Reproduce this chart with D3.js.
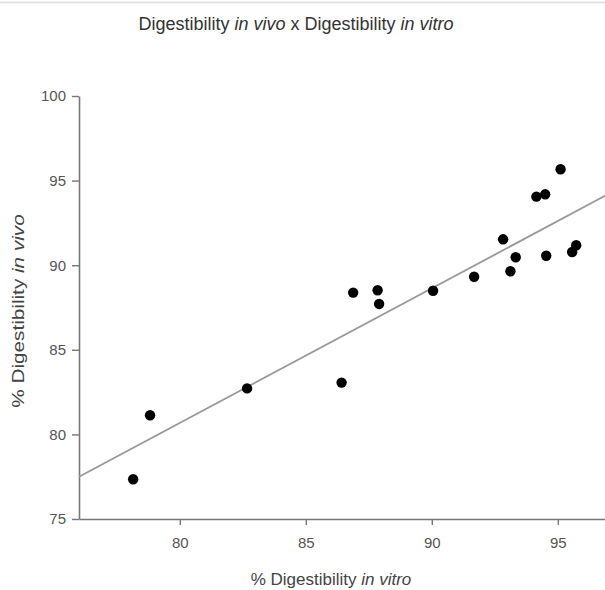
<!DOCTYPE html>
<html>
<head>
<meta charset="utf-8">
<script src="https://cdn.jsdelivr.net/npm/d3@7"></script>
<style>
  body { margin: 0; background: #fff; }
  svg { display: block; font-family: "Liberation Sans", Arial, sans-serif; }
</style>
</head>
<body>
<svg width="605" height="590"></svg>
<script>
// digestibility values
var inVitro = [78.15, 78.82, 82.67, 86.42, 86.88, 87.85, 87.91, 90.05, 91.68, 92.83, 93.12, 93.33, 94.15, 94.50, 94.54, 95.11, 95.57, 95.73];
var inVivo  = [77.35, 81.13, 82.72, 83.06, 88.38, 88.52, 87.71, 88.49, 89.32, 91.53, 89.64, 90.47, 94.05, 94.19, 90.56, 95.67, 90.78, 91.18];
var xTicks = [80, 85, 90, 95];
var yTicks = [75, 80, 85, 90, 95, 100];
// trend line ends
var trendX = [76, 97];
var trendY = [77.5, 94.2];

var svg = d3.select("svg");

// light rule along the top edge
svg.append("line")
  .attr("x1", 0).attr("x2", 605)
  .attr("y1", 2.5).attr("y2", 2.5)
  .attr("stroke", "#e2e2e2").attr("stroke-width", 2);

var x = d3.scaleLinear().domain([76, 97]).range([79, 79 + 21 * 25.2]);
var y = d3.scaleLinear().domain([75, 100]).range([519, 96]);

// axes
var xAxis = svg.append("g")
  .attr("transform", "translate(0,519)")
  .call(d3.axisBottom(x).tickValues(xTicks).tickSize(6).tickPadding(12).tickSizeOuter(0));
var yAxis = svg.append("g")
  .attr("transform", "translate(79,0)")
  .call(d3.axisLeft(y).tickValues(yTicks).tickSize(7).tickPadding(6).tickSizeOuter(0));

[xAxis, yAxis].forEach(function (a) {
  a.select(".domain").attr("stroke", "#777").attr("stroke-width", 1.6);
  a.selectAll(".tick line").attr("stroke", "#777").attr("stroke-width", 1.4);
  a.selectAll(".tick text").attr("fill", "#555").style("font-size", "15px");
});

// trend line
svg.append("line")
  .attr("x1", x(trendX[0])).attr("y1", y(trendY[0]))
  .attr("x2", x(trendX[1])).attr("y2", y(trendY[1]))
  .attr("stroke", "#999").attr("stroke-width", 1.8);

// points
svg.append("g")
  .selectAll("circle")
  .data(inVitro)
  .enter()
  .append("circle")
  .attr("cx", function (d) { return x(d); })
  .attr("cy", function (d, i) { return y(inVivo[i]); })
  .attr("r", 5.2)
  .attr("fill", "#000");

// title
var title = svg.append("text")
  .attr("x", 296).attr("y", 30)
  .attr("text-anchor", "middle")
  .attr("fill", "#333")
  .style("font-size", "18px");
title.append("tspan").text("Digestibility ");
title.append("tspan").attr("font-style", "italic").text("in vivo");
title.append("tspan").text(" x Digestibility ");
title.append("tspan").attr("font-style", "italic").text("in vitro");

// x label
var xl = svg.append("text")
  .attr("x", 331).attr("y", 585)
  .attr("text-anchor", "middle")
  .attr("fill", "#444")
  .style("font-size", "17px");
xl.append("tspan").text("% Digestibility ");
xl.append("tspan").attr("font-style", "italic").text("in vitro");

// y label (stretched along its length, like the source)
var yl = svg.append("text")
  .attr("transform", "translate(24,311) rotate(-90) scale(1.22,1)")
  .attr("text-anchor", "middle")
  .attr("fill", "#444")
  .style("font-size", "17px");
yl.append("tspan").text("% Digestibility ");
yl.append("tspan").attr("font-style", "italic").text("in vivo");
</script>
</body>
</html>
